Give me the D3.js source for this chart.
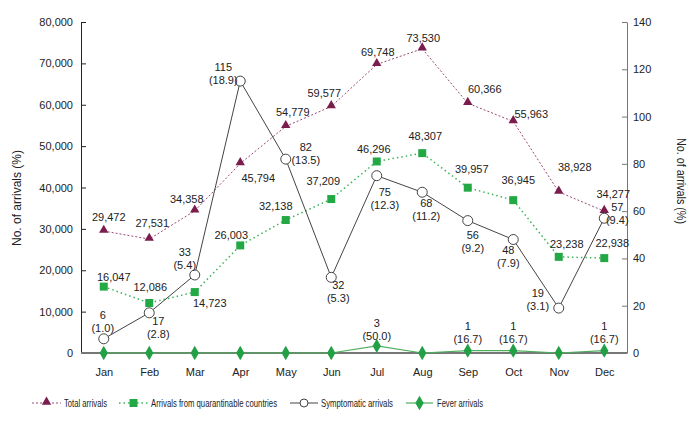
<!DOCTYPE html>
<html><head><meta charset="utf-8">
<script src="https://cdn.jsdelivr.net/npm/d3@7"></script>
<style>
body{margin:0;background:#fff;}
text{font-family:"Liberation Sans",Arial,sans-serif;fill:#222;}
</style></head>
<body>
<svg id="chart" width="698" height="424"></svg>
<script>
const months = ["Jan","Feb","Mar","Apr","May","Jun","Jul","Aug","Sep","Oct","Nov","Dec"];
const totalArrivals = [29472, 27531, 34358, 45794, 54779, 59577, 69748, 73530, 60366, 55963, 38928, 34277];
const quarantinable = [16047, 12086, 14723, 26003, 32138, 37209, 46296, 48307, 39957, 36945, 23238, 22938];
const symptomatic = [6, 17, 33, 115, 82, 32, 75, 68, 56, 48, 19, 57];
const symptomaticPct = ["1.0","2.8","5.4","18.9","13.5","5.3","12.3","11.2","9.2","7.9","3.1","9.4"];
const fever = [0, 0, 0, 0, 0, 0, 3, 0, 1, 1, 0, 1];
const feverPct = [null, null, null, null, null, null, "50.0", null, "16.7", "16.7", null, "16.7"];
const leftTicks = [0, 10000, 20000, 30000, 40000, 50000, 60000, 70000, 80000];
const rightTicks = [0, 20, 40, 60, 80, 100, 120, 140];

// label offsets (layout)
const totalOff = [[5,-14],[3,-16],[-8,-12],[18,14],[7,-14],[-7,-14],[1,-12],[1,-11],[17,-14],[18,-7],[16,-25],[9,-17]];
const quarOff = [[10,-10],[1,-16],[15,11],[-9,-10],[-10,-14],[-8,-18],[-3,-12],[3,-17],[4,-19],[5,-20],[8,-13],[8,-15]];
const sympOff = [[-1,-24],[9,8],[-10,-23],[-17,-14],[20,-12],[7,8],[8,16],[4,11],[5,14],[-5,10],[-21,-15],[13,-11]];
const feverOff = [[0,-23],[0,-23],[0,-23],[0,-23],[0,-23],[0,-23],[0,-23],[0,-23],[0,-25],[0,-25],[0,-25],[0,-25]];

const svg = d3.select("#chart");
const L = 81, R = 627, T = 22, B = 353;
const x = d3.scalePoint().domain(months).range([L, R]).padding(0.5);
const yL = d3.scaleLinear().domain([0, 80000]).range([B, T]);
const yR = d3.scaleLinear().domain([0, 140]).range([B, T]);
const fmt = d3.format(",");

// axes
const gL = svg.append("g").attr("transform", `translate(${L},0)`)
  .call(d3.axisLeft(yL).tickValues(leftTicks).tickFormat(fmt).tickSizeInner(-5).tickSizeOuter(0).tickPadding(8));
gL.select(".domain").attr("stroke", "#222");
gL.selectAll(".tick line").attr("stroke", "#222");
gL.selectAll("text").style("font-size", "11px").attr("fill", "#333");

const gR = svg.append("g").attr("transform", `translate(${R},0)`)
  .call(d3.axisRight(yR).tickValues(rightTicks).tickSizeInner(-5).tickSizeOuter(0).tickPadding(6));
gR.select(".domain").attr("stroke", "#777");
gR.selectAll(".tick line").attr("stroke", "#777");
gR.selectAll("text").style("font-size", "11px").attr("fill", "#333");

// bottom axis
const gB = svg.append("g").attr("transform", `translate(0,${B})`)
  .call(d3.axisBottom(x).tickSize(0).tickPadding(15));
gB.select(".domain").attr("d", `M${L},0H${R}`).attr("stroke", "#777").attr("stroke-width", 2);
gB.selectAll("text").style("font-size", "11px").attr("fill", "#333");

// axis titles
svg.append("text").attr("transform", `translate(21,198) rotate(-90)`)
  .attr("text-anchor", "middle").style("font-size", "12px").attr("fill", "#333")
  .attr("textLength", 96).attr("lengthAdjust", "spacingAndGlyphs").text("No. of arrivals (%)");
svg.append("text").attr("transform", `translate(677,181) rotate(90)`)
  .attr("text-anchor", "middle").style("font-size", "12px").attr("fill", "#333")
  .attr("textLength", 86).attr("lengthAdjust", "spacingAndGlyphs").text("No. of arrivals (%)");

// colors
const cTotal = "#7a1d4d", cTotalLine = "#9a4a74";
const cQuar = "#22a845", cQuarLine = "#3cb458";
const cSymp = "#444";
const cFever = "#22a045", cFeverLine = "#4caf5a";

// lines
const lineL = d3.line().x((d,i) => x(months[i])).y(d => yL(d));
const lineR = d3.line().x((d,i) => x(months[i])).y(d => yR(d));

svg.append("path").datum(fever).attr("d", lineR).attr("fill", "none").attr("stroke", cFeverLine).attr("stroke-width", 1.2);
svg.append("path").datum(totalArrivals).attr("d", lineL).attr("fill", "none").attr("stroke", cTotalLine).attr("stroke-width", 1).attr("stroke-dasharray", "2,2");
svg.append("path").datum(quarantinable).attr("d", lineL).attr("fill", "none").attr("stroke", cQuarLine).attr("stroke-width", 1.5).attr("stroke-dasharray", "1.5,3");
svg.append("path").datum(symptomatic).attr("d", lineR).attr("fill", "none").attr("stroke", cSymp).attr("stroke-width", 1);

// markers
const tri = d3.symbol().type(d3.symbolTriangle).size(38);
const sq = d3.symbol().type(d3.symbolSquare).size(64);
const dia = d3.symbol().type(d3.symbolDiamond).size(60);

svg.append("g").selectAll("path").data(totalArrivals).join("path")
  .attr("d", tri).attr("fill", cTotal)
  .attr("transform", (d,i) => `translate(${x(months[i])},${yL(d) - 1})`);
svg.append("g").selectAll("path").data(quarantinable).join("path")
  .attr("d", sq).attr("fill", cQuar)
  .attr("transform", (d,i) => `translate(${x(months[i])},${yL(d)})`);
svg.append("g").selectAll("circle").data(symptomatic).join("circle")
  .attr("cx", (d,i) => x(months[i])).attr("cy", d => yR(d)).attr("r", 5)
  .attr("fill", "#fff").attr("stroke", cSymp).attr("stroke-width", 1);
svg.append("g").selectAll("path").data(fever).join("path")
  .attr("d", dia).attr("fill", cFever)
  .attr("transform", (d,i) => `translate(${x(months[i])},${yR(d)})`);

// labels
const lblStyle = s => s.style("font-size", "11px").attr("fill", "#222").attr("text-anchor", "middle").attr("dominant-baseline", "central");
svg.append("g").selectAll("text").data(totalArrivals).join("text")
  .attr("x", (d,i) => x(months[i]) + totalOff[i][0]).attr("y", (d,i) => yL(d) + totalOff[i][1])
  .text(d => fmt(d)).call(lblStyle);
svg.append("g").selectAll("text").data(quarantinable).join("text")
  .attr("x", (d,i) => x(months[i]) + quarOff[i][0]).attr("y", (d,i) => yL(d) + quarOff[i][1])
  .text(d => fmt(d)).call(lblStyle);
const sg = svg.append("g").selectAll("g").data(symptomatic).join("g")
  .attr("transform", (d,i) => `translate(${x(months[i]) + sympOff[i][0]},${yR(d) + sympOff[i][1]})`);
sg.append("text").attr("y", 0).text(d => d).call(lblStyle);
sg.append("text").attr("y", 13).text((d,i) => `(${symptomaticPct[i]})`).call(lblStyle);
const fData = fever.map((v,i) => ({v, i})).filter(d => d.v > 0);
const fg = svg.append("g").selectAll("g").data(fData).join("g")
  .attr("transform", d => `translate(${x(months[d.i]) + feverOff[d.i][0]},${yR(d.v) + feverOff[d.i][1]})`);
fg.append("text").attr("y", 0).text(d => d.v).call(lblStyle);
fg.append("text").attr("y", 13).text(d => `(${feverPct[d.i]})`).call(lblStyle);

// legend
const legY = 403;
const leg = [
  {name: "Total arrivals", x1: 32, x2: 61, tx: 64, tl: 43, kind: "tri"},
  {name: "Arrivals from quarantinable countries", x1: 119, x2: 148, tx: 151, tl: 126, kind: "sq"},
  {name: "Symptomatic arrivals", x1: 290, x2: 318, tx: 321, tl: 72, kind: "circ"},
  {name: "Fever arrivals", x1: 406, x2: 433, tx: 437, tl: 46, kind: "dia"}
];
leg.forEach(l => {
  const g = svg.append("g");
  const ln = g.append("line").attr("x1", l.x1).attr("x2", l.x2).attr("y1", legY).attr("y2", legY);
  const cx = (l.x1 + l.x2) / 2;
  if (l.kind === "tri") {
    ln.attr("stroke", cTotalLine).attr("stroke-dasharray", "2,2");
    g.append("path").attr("d", tri).attr("fill", cTotal).attr("transform", `translate(${cx},${legY - 1})`);
  } else if (l.kind === "sq") {
    ln.attr("stroke", cQuarLine).attr("stroke-width", 1.5).attr("stroke-dasharray", "1.5,3");
    g.append("path").attr("d", sq).attr("fill", cQuar).attr("transform", `translate(${cx},${legY})`);
  } else if (l.kind === "circ") {
    ln.attr("stroke", cSymp);
    g.append("circle").attr("cx", cx).attr("cy", legY).attr("r", 4).attr("fill", "#fff").attr("stroke", cSymp);
  } else {
    ln.attr("stroke", cFeverLine).attr("stroke-width", 1.2);
    g.append("path").attr("d", dia).attr("fill", cFever).attr("transform", `translate(${cx},${legY})`);
  }
  g.append("text").attr("x", l.tx).attr("y", legY).attr("dominant-baseline", "central")
    .style("font-size", "11px").attr("fill", "#333")
    .attr("textLength", l.tl).attr("lengthAdjust", "spacingAndGlyphs").text(l.name);
});
</script>
</body></html>
